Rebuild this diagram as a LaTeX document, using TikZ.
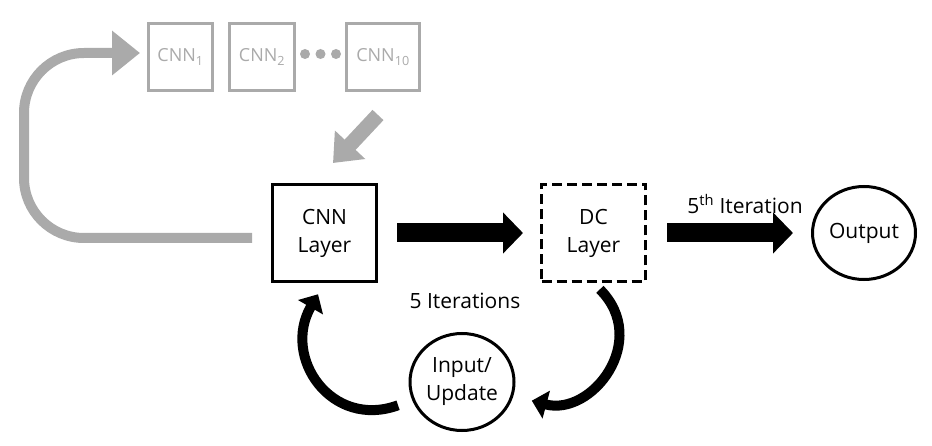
\documentclass[tikz,border=0pt]{standalone}
\usepackage{fontspec}
\setmainfont{Open Sans}
\usetikzlibrary{positioning,arrows.meta,shapes.geometric}
\definecolor{cnngray}{RGB}{170,170,170}

\begin{document}
\begin{tikzpicture}[x=1pt,y=1pt,
        font=\fontsize{21}{28}\selectfont,
        layer/.style={draw,line width=3pt,minimum width=104pt,minimum height=97pt,align=center,inner sep=0pt},
        oval/.style={ellipse,draw,line width=3pt,minimum width=104pt,minimum height=97pt,align=center,inner sep=0pt},
        cnnbox/.style={draw=cnngray,text=cnngray,line width=3pt,minimum height=67pt,inner sep=0pt,font=\fontsize{18}{22}\selectfont},
        blockarrow/.style={line width=19pt,-{Triangle[length=20pt,width=40pt]}},
        grayarrow/.style={cnngray,line width=10pt,-{Triangle[length=28pt,width=43pt]}},
        looparrow/.style={line width=10pt,-{Triangle[length=15pt,width=28pt]},looseness=1.5}]
    \useasboundingbox (0,0) rectangle (932,445);

    \node[layer] (cnn) at (324.5,212) {CNN\\Layer};
    \node[layer,dash pattern=on 10pt off 5pt,right=162pt of cnn] (dc) {DC\\Layer};
    \node[oval,minimum width=103pt,minimum height=93pt,right=164pt of dc] (out) {Output};
    \node[oval] (io) at (462,63) {Input/\\Update};

    \node[cnnbox,minimum width=64pt] (c1) at (180.5,388) {CNN\textsubscript{1}};
    \node[cnnbox,minimum width=65pt,right=14pt of c1] (c2) {CNN\textsubscript{2}};
    \node[cnnbox,minimum width=73pt,right=49pt of c2] (c10) {CNN\textsubscript{10}};
    \foreach \x in {305,320.5,336}
        \fill[cnngray] (\x,391) circle (5pt);

    \node (iters) at (465,144) {5 Iterations};
    \node (fifth) at (745,241) {5\textsuperscript{th} Iteration};

    % main flow
    \draw[blockarrow,shorten <=19pt,shorten >=17pt] (cnn.east) -- (dc.west);
    \draw[blockarrow,shorten <=20pt,shorten >=18pt] (dc.east) -- (dc.east -| out.west);

    % iteration loop
    \draw[looparrow,shorten <=15pt,shorten >=13pt] (io.200) to[out=200,in=240] (cnn.south);
    \draw[looparrow,shorten <=9pt,shorten >=19pt] (dc.south) to[out=-45,in=-15] (io.-15);

    % ensemble of CNNs
    \coordinate (lp) at ([xshift=-19pt,yshift=-5pt]cnn.west);
    \draw[grayarrow,rounded corners=60pt,shorten >=7pt] (lp) -- ++(-228pt,0) |- ([yshift=4pt]c1.west);
    \coordinate (gt) at (378,330);
    \coordinate (gh) at (333,282);
    \draw[grayarrow,line width=15pt,-{Triangle[length=25pt,width=40pt]}] (gt) -- (gh);
\end{tikzpicture}
\end{document}
